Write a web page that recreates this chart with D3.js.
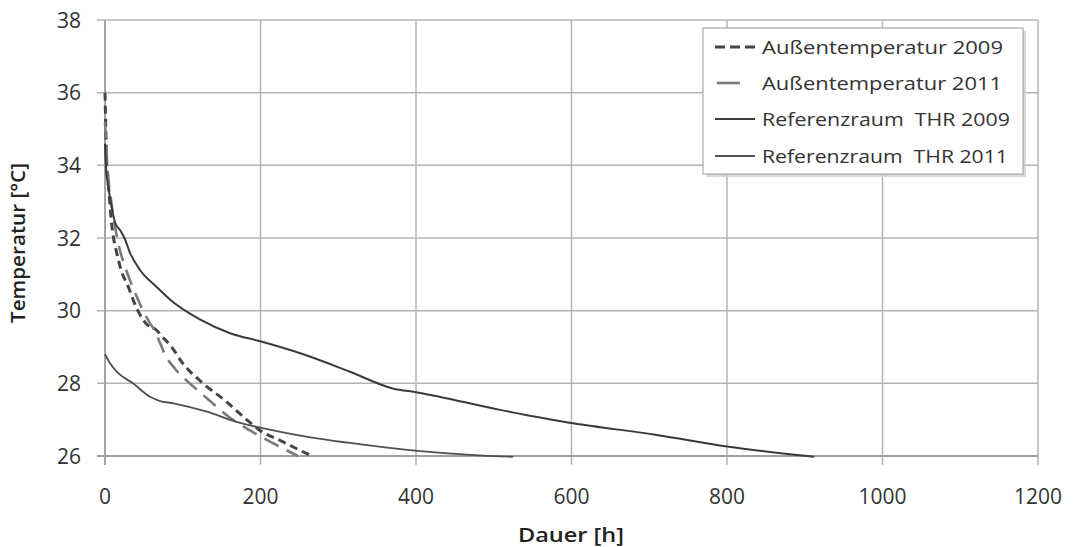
<!DOCTYPE html>
<html><head><meta charset="utf-8">
<script src="https://cdn.jsdelivr.net/npm/d3@7"></script>
<style>
html,body{margin:0;padding:0;background:#fff;}
svg{display:block;font-family:"Open Sans",sans-serif;}
</style></head>
<body>
<svg id="c" width="1073" height="547"></svg>
<script>
const xTicks = [0,200,400,600,800,1000,1200];
const yTicks = [26,28,30,32,34,36,38];
const seriesNames = ["Außentemperatur 2009","Außentemperatur 2011","Referenzraum  THR 2009","Referenzraum  THR 2011"];
// [hours, °C]
const aussen2009 = [[0,36.0],[1,35.0],[2,34.1],[5,33.3],[8,32.5],[11,32.0],[15,31.6],[21,31.1],[30,30.66],[38,30.2],[49,29.75],[58,29.55],[64,29.5],[75,29.25],[84,29.05],[100,28.55],[126,28.0],[156,27.5],[182,27.0],[199,26.71],[229,26.39],[259,26.07],[266,26.0]];
const aussen2011 = [[0,35.2],[3,34.0],[8,33.0],[13,32.3],[20,31.6],[26,31.2],[32,30.84],[41,30.38],[49,30.0],[58,29.65],[64,29.45],[71,29.1],[77,28.8],[90,28.4],[109,28.0],[131,27.59],[156,27.13],[186,26.71],[204,26.49],[229,26.21],[248,26.0]];
const ref2009 = [[0,34.6],[1,34.05],[5,33.3],[9,32.8],[13,32.42],[20,32.2],[25,32.0],[32,31.6],[45,31.12],[66,30.66],[85,30.28],[122,29.76],[161,29.38],[201,29.15],[255,28.8],[315,28.32],[370,27.86],[402,27.75],[508,27.27],[602,26.9],[710,26.58],[800,26.26],[903,26.0],[912,25.98]];
const ref2011 = [[0,28.8],[5,28.6],[15,28.32],[36,28.0],[58,27.63],[70,27.52],[88,27.45],[131,27.22],[169,26.94],[204,26.76],[255,26.55],[315,26.36],[402,26.14],[470,26.03],[508,25.99],[525,25.98]];

const svg = d3.select("#c");
const L = 105, R = 1038, T = 20, B = 456;
const x = d3.scaleLinear().domain([0,1200]).range([L,R]);
const y = d3.scaleLinear().domain([26,38]).range([B,T]);

// gridlines
const grid = svg.append("g");
grid.selectAll(".hg").data(yTicks).join("line")
  .attr("x1", L-8).attr("x2", R).attr("y1", d=>y(d)).attr("y2", d=>y(d))
  .attr("stroke","#b4b4b4").attr("stroke-width",1.5);
grid.selectAll(".vg").data(xTicks).join("line")
  .attr("x1", d=>x(d)).attr("x2", d=>x(d)).attr("y1", T).attr("y2", B+9)
  .attr("stroke","#b4b4b4").attr("stroke-width",1.5);
// axes lines
svg.append("line").attr("x1",L).attr("x2",L).attr("y1",T).attr("y2",B+9).attr("stroke","#a0a0a0").attr("stroke-width",1.8);
svg.append("line").attr("x1",L-8).attr("x2",R).attr("y1",B).attr("y2",B).attr("stroke","#a0a0a0").attr("stroke-width",1.8);

// tick labels
svg.selectAll(".yl").data(yTicks).join("text")
  .attr("x", 81).attr("y", d=>y(d)).attr("dy","0.36em")
  .attr("text-anchor","end").attr("font-size",21).attr("fill","#333")
  .text(d=>d);
svg.selectAll(".xl").data(xTicks).join("text")
  .attr("x", d=>x(d)).attr("y", 496).attr("dy","0.36em")
  .attr("text-anchor","middle").attr("font-size",21).attr("fill","#333")
  .text(d=>d);

// axis titles
svg.append("text").attr("transform","translate(25,243) rotate(-90)")
  .attr("text-anchor","middle").attr("font-size",19).attr("font-weight",600).attr("fill","#222")
  .attr("textLength",160).attr("lengthAdjust","spacingAndGlyphs")
  .text("Temperatur [°C]");
svg.append("text").attr("x",571).attr("y",535).attr("dy","0.36em")
  .attr("text-anchor","middle").attr("font-size",20).attr("font-weight",600).attr("fill","#222")
  .attr("textLength",106).attr("lengthAdjust","spacingAndGlyphs")
  .text("Dauer [h]");

// lines
const lineX = d3.line().x(d=>x(d[0])).y(d=>y(d[1])).curve(d3.curveMonotoneX);
const styles = [
  {data:aussen2009, color:"#454545", width:3, dash:"8,5"},
  {data:aussen2011, color:"#7a7a7a", width:2.6, dash:"16,9"},
  {data:ref2009, color:"#3a3a3a", width:2, dash:null},
  {data:ref2011, color:"#505050", width:1.8, dash:null}
];
const plot = svg.append("g");
styles.forEach(s=>{
  plot.append("path").attr("d", lineX(s.data)).attr("fill","none")
    .attr("stroke", s.color).attr("stroke-width", s.width)
    .attr("stroke-dasharray", s.dash).attr("stroke-linejoin","round");
});

// legend
const lg = svg.append("g");
lg.append("rect").attr("x",706).attr("y",31).attr("width",320).attr("height",146).attr("fill","#d0d0d0").attr("opacity",0.8);
lg.append("rect").attr("x",703).attr("y",28).attr("width",320).attr("height",146).attr("fill","#fff").attr("stroke","#9a9a9a").attr("stroke-width",1);
const ly = [47, 83, 119, 156];
const lens = [241, 240, 248, 246];
const legendDash = ["10,5", null, null, null];
styles.forEach((s,i)=>{
  const x2 = i===1 ? 740 : 755;
  const x1 = i===1 ? 717 : 715;
  lg.append("line").attr("x1",x1).attr("x2",x2).attr("y1",ly[i]).attr("y2",ly[i])
    .attr("stroke",s.color).attr("stroke-width",s.width).attr("stroke-dasharray", legendDash[i]);
  lg.append("text").attr("x",762).attr("y",ly[i]).attr("dy","0.36em")
    .attr("font-size",18.5).attr("fill","#333")
    .attr("textLength",lens[i]).attr("lengthAdjust","spacingAndGlyphs")
    .style("white-space","pre")
    .text(seriesNames[i]);
});
</script>
</body></html>
